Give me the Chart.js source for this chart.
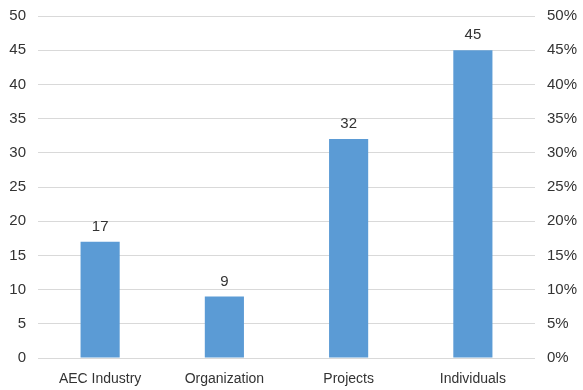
<!DOCTYPE html>
<html>
<head>
<meta charset="utf-8">
<script src="https://cdn.jsdelivr.net/npm/chart.js@4"></script>
<style>
  html, body { margin: 0; padding: 0; background: #fff; }
  #wrap { width: 583px; height: 390px; }
</style>
</head>
<body>
<div id="wrap"><canvas id="barChart" width="583" height="390"></canvas></div>
<script>
var categories = ["AEC Industry", "Organization", "Projects", "Individuals"];
var counts = [17, 9, 32, 45];
var leftTicks = [0, 5, 10, 15, 20, 25, 30, 35, 40, 45, 50];
var rightTicks = ["0%", "5%", "10%", "15%", "20%", "25%", "30%", "35%", "40%", "45%", "50%"];

var textColor = "#333333";
var fontFamily = "'Liberation Sans', Arial, sans-serif";

// value labels above each bar
var barLabels = {
  id: "barLabels",
  afterDatasetsDraw: function(chart) {
    var ctx = chart.ctx;
    var meta = chart.getDatasetMeta(0);
    ctx.save();
    ctx.fillStyle = textColor;
    ctx.font = "15px " + fontFamily;
    ctx.textAlign = "center";
    ctx.textBaseline = "middle";
    meta.data.forEach(function(bar, i) {
      ctx.fillText(String(counts[i]), bar.x, bar.y - 15);
    });
    ctx.restore();
  }
};

function fixWidth(w) {
  return function(scale) {
    scale.width = w;
    scale.paddingTop = 0;
    scale.paddingBottom = 0;
  };
}

var ctx = document.getElementById("barChart").getContext("2d");
var chart = new Chart(ctx, {
  type: "bar",
  data: {
    labels: categories,
    datasets: [{
      data: counts,
      backgroundColor: "#5b9bd5",
      borderWidth: 0,
      categoryPercentage: 1,
      barPercentage: 0.315
    }]
  },
  options: {
    responsive: false,
    animation: false,
    layout: { padding: { top: 16, left: 0, right: 0, bottom: 0 } },
    plugins: { legend: { display: false }, tooltip: { enabled: false } },
    scales: {
      x: {
        grid: { display: false },
        border: { display: false },
        ticks: { color: textColor, font: { family: fontFamily, size: 14 }, padding: 5, maxRotation: 0 },
        afterFit: function(scale) { scale.height = 32; scale.paddingLeft = 0; scale.paddingRight = 0; }
      },
      y: {
        position: "left",
        min: 0,
        max: 50,
        afterBuildTicks: function(scale) {
          scale.ticks = leftTicks.map(function(v) { return { value: v }; });
        },
        grid: { color: "#d9d9d9", lineWidth: 1, drawTicks: false },
        border: { display: false },
        ticks: { color: textColor, font: { family: fontFamily, size: 15 }, padding: 12 },
        afterFit: fixWidth(38)
      },
      y1: {
        position: "right",
        min: 0,
        max: 50,
        afterBuildTicks: function(scale) {
          scale.ticks = leftTicks.map(function(v) { return { value: v }; });
        },
        grid: { display: false, drawTicks: false },
        border: { display: false },
        ticks: {
          color: textColor,
          font: { family: fontFamily, size: 15 },
          padding: 12,
          callback: function(v, i) { return rightTicks[i]; }
        },
        afterFit: fixWidth(48)
      }
    }
  },
  plugins: [barLabels]
});
</script>
</body>
</html>
